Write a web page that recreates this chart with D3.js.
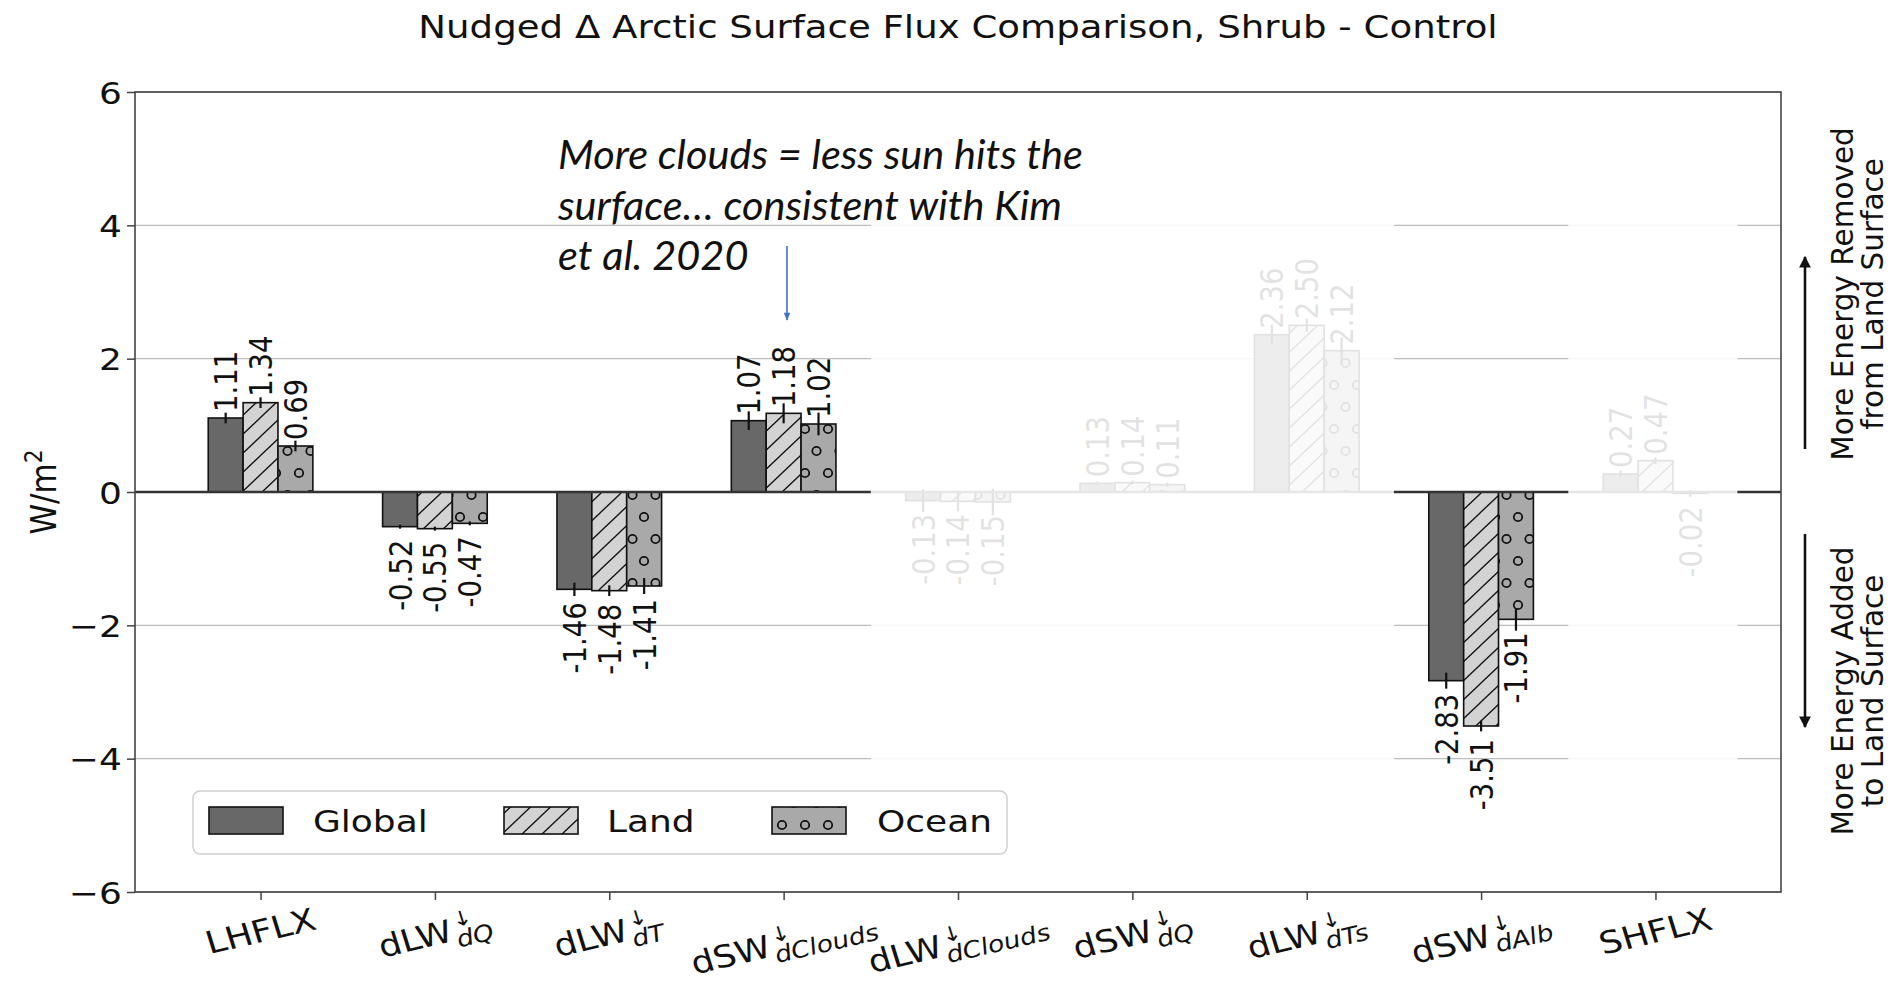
<!DOCTYPE html>
<html>
<head>
<meta charset="utf-8">
<script src="https://cdn.jsdelivr.net/npm/d3@7"></script>
<style>
  body { margin: 0; background: #fff; }
  svg { display: block; }
</style>
</head>
<body>
<svg id="chart" width="1891" height="1004"></svg>
<script>
// ---- data -------------------------------------------------------------
const categories = ["LHFLX", "dLW_dQ", "dLW_dT", "dSW_dClouds", "dLW_dClouds",
                    "dSW_dQ", "dLW_dTs", "dSW_dAlb", "SHFLX"];
const labelBase = ["LHFLX", "dLW", "dLW", "dSW", "dLW", "dSW", "dLW", "dSW", "SHFLX"];
const labelSub  = ["", "dQ", "dT", "dClouds", "dClouds", "dQ", "dTs", "dAlb", ""];

const seriesNames = ["Global", "Land", "Ocean"];
const globalValues = [1.11, -0.52, -1.46, 1.07, -0.13, 0.13, 2.36, -2.83, 0.27];
const landValues   = [1.34, -0.55, -1.48, 1.18, -0.14, 0.14, 2.50, -3.51, 0.47];
const oceanValues  = [0.69, -0.47, -1.41, 1.02, -0.15, 0.11, 2.12, -1.91, -0.02];

const globalErr = [0.08, 0.03, 0.10, 0.14, 0.17, 0.03, 0.15, 0.12, 0.05];
const landErr   = [0.08, 0.03, 0.08, 0.15, 0.15, 0.03, 0.10, 0.08, 0.05];
const oceanErr  = [0.08, 0.03, 0.12, 0.17, 0.20, 0.03, 0.20, 0.17, 0.05];

const yTicks = [-6, -4, -2, 0, 2, 4, 6];

const titleText = "Nudged \u0394 Arctic Surface Flux Comparison, Shrub - Control";
const yLabelText = "W/m";
const upperNote = ["More Energy Removed", "from Land Surface"];
const lowerNote = ["More Energy Added", "to Land Surface"];
const calloutLines = ["More clouds = less sun hits the",
                      "surface\u2026 consistent with Kim",
                      "et al. 2020"];

// ---- layout -----------------------------------------------------------
const plot = { left: 135, right: 1781, top: 92, bottom: 892 };
const SX = 1.16;            // horizontal stretch of the figure's lettering
const FONT = "DejaVu Sans";
const FS = 31;              // tick / legend size
const VFS = 27.5;           // bar value labels
const BW = 0.2;             // bar width in category units
const ROT = 15;             // x tick label rotation

const series = [
  { name: seriesNames[0], values: globalValues, err: globalErr, fill: "#686868", hatch: null },
  { name: seriesNames[1], values: landValues,   err: landErr,   fill: "#d3d3d3", hatch: "url(#hatchDiag)" },
  { name: seriesNames[2], values: oceanValues,  err: oceanErr,  fill: "#a9a9a9", hatch: "url(#hatchRing)" }
];

const svg = d3.select("#chart");
const xs = d3.scaleLinear().domain([-0.72, 8.72]).range([plot.left, plot.right]);
const ys = d3.scaleLinear().domain([-6, 6]).range([plot.bottom, plot.top]);

const stretch = (x, y, rot, sx = SX) =>
  `translate(${x},${y}) scale(${sx},1)` + (rot ? ` rotate(${rot})` : "");

// ---- hatch patterns ---------------------------------------------------
const defs = svg.append("defs");
{
  const w = 20, h = 19;
  const p = defs.append("pattern").attr("id", "hatchDiag")
    .attr("patternUnits", "userSpaceOnUse").attr("width", w).attr("height", h);
  p.append("path")
    .attr("d", `M0,${h} L${w},0 M${-w / 2},${h / 2} L${w / 2},${-h / 2} M${w / 2},${h * 1.5} L${w * 1.5},${h / 2}`)
    .attr("stroke", "#111").attr("stroke-width", 1.3).attr("fill", "none");
}
{
  const w = 23, h = 44, r = 4.2;
  const p = defs.append("pattern").attr("id", "hatchRing")
    .attr("patternUnits", "userSpaceOnUse").attr("width", w).attr("height", h);
  [[w / 2, h / 4], [0, h * 0.75], [w, h * 0.75]].forEach(([cx, cy]) =>
    p.append("circle").attr("cx", cx).attr("cy", cy).attr("r", r)
      .attr("fill", "none").attr("stroke", "#111").attr("stroke-width", 1.8));
}

// ---- grid -------------------------------------------------------------
svg.append("g").selectAll("line").data(yTicks).join("line")
  .attr("x1", plot.left).attr("x2", plot.right)
  .attr("y1", d => ys(d)).attr("y2", d => ys(d))
  .attr("stroke", "#bdbdbd").attr("stroke-width", 1.3);

// ---- bars -------------------------------------------------------------
const barLayer = svg.append("g");
series.forEach((s, si) => {
  const off = (si - 1) * BW;
  const rects = s.values.map((v, i) => ({
    x: xs(i + off - BW / 2), w: xs(i + off + BW / 2) - xs(i + off - BW / 2),
    y: ys(Math.max(0, v)), h: Math.abs(ys(v) - ys(0))
  }));
  barLayer.append("g").selectAll("rect").data(rects).join("rect")
    .attr("x", d => d.x).attr("y", d => d.y).attr("width", d => d.w).attr("height", d => d.h)
    .attr("fill", s.fill);
  if (s.hatch) {
    barLayer.append("g").selectAll("rect").data(rects).join("rect")
      .attr("x", d => d.x).attr("y", d => d.y).attr("width", d => d.w).attr("height", d => d.h)
      .attr("fill", s.hatch);
  }
  barLayer.append("g").selectAll("rect").data(rects).join("rect")
    .attr("x", d => d.x).attr("y", d => d.y).attr("width", d => d.w).attr("height", d => d.h)
    .attr("fill", "none").attr("stroke", "#111").attr("stroke-width", 1.6);
});

// error bars
series.forEach((s, si) => {
  const off = (si - 1) * BW;
  svg.append("g").selectAll("line").data(s.values).join("line")
    .attr("x1", (v, i) => xs(i + off)).attr("x2", (v, i) => xs(i + off))
    .attr("y1", (v, i) => ys(v - s.err[i])).attr("y2", (v, i) => ys(v + s.err[i]))
    .attr("stroke", "#111").attr("stroke-width", 2.2);
});

// zero line
svg.append("line")
  .attr("x1", plot.left).attr("x2", plot.right).attr("y1", ys(0)).attr("y2", ys(0))
  .attr("stroke", "#333").attr("stroke-width", 2.6);

// value labels
const valLayer = svg.append("g").attr("font-family", FONT).attr("font-size", VFS).attr("fill", "#111");
series.forEach((s, si) => {
  const off = (si - 1) * BW;
  s.values.forEach((v, i) => {
    const pos = v >= 0;
    valLayer.append("text")
      .attr("transform", stretch(xs(i + off), pos ? ys(v) - 6 : ys(v) + 13, -90))
      .attr("text-anchor", pos ? "start" : "end")
      .attr("dy", "0.36em")
      .text(v.toFixed(2));
  });
});

// ---- axes & spines ----------------------------------------------------
const yAxis = svg.append("g").attr("transform", `translate(${plot.left},0)`)
  .call(d3.axisLeft(ys).tickValues(yTicks).tickSize(8).tickPadding(0)
    .tickFormat(d => d < 0 ? "\u2212" + Math.abs(d) : String(d)));
yAxis.select(".domain").remove();
yAxis.selectAll(".tick line").attr("stroke", "#444").attr("stroke-width", 1.5);
yAxis.selectAll(".tick text")
  .attr("x", null).attr("dy", "0.36em")
  .attr("transform", `translate(-13,0) scale(${SX},1)`)
  .attr("font-family", FONT).attr("font-size", FS).attr("fill", "#111")
  .attr("text-anchor", "end");

const xAxis = svg.append("g").attr("transform", `translate(0,${plot.bottom})`)
  .call(d3.axisBottom(xs).tickValues(d3.range(categories.length)).tickSize(8).tickFormat(""));
xAxis.select(".domain").remove();
xAxis.selectAll(".tick line").attr("stroke", "#444").attr("stroke-width", 1.5);

svg.append("rect")
  .attr("x", plot.left).attr("y", plot.top)
  .attr("width", plot.right - plot.left).attr("height", plot.bottom - plot.top)
  .attr("fill", "none").attr("stroke", "#444").attr("stroke-width", 1.6);

// x tick labels: base name with stacked ↓ superscript and italic subscript
const xLab = svg.append("g").attr("font-family", FONT).attr("fill", "#111");
categories.forEach((c, i) => {
  const g = xLab.append("g");
  const inner = g.append("g");
  const base = inner.append("text").attr("font-size", FS).text(labelBase[i]);
  if (labelSub[i]) {
    const w = base.node().getComputedTextLength();
    inner.append("text").attr("x", w + 2).attr("y", 0.24 * FS)
      .attr("font-size", 0.74 * FS).attr("font-style", "italic").text(labelSub[i]);
    inner.append("text").attr("x", w + 3).attr("y", -0.42 * FS)
      .attr("font-size", 0.66 * FS).text("\u2193");
  }
  const bb = inner.node().getBBox();
  const cx = bb.x + bb.width / 2, cy = bb.y + bb.height / 2;
  const t = ROT * Math.PI / 180;
  const hRot = bb.width * Math.sin(t) + bb.height * Math.cos(t);
  g.attr("transform",
    `translate(${xs(i)},${plot.bottom + 9 + hRot / 2}) scale(${SX},1) rotate(${-ROT}) translate(${-cx},${-cy})`);
});

// ---- dimmed category groups -------------------------------------------
[[3.5, 6.5], [7.5, 8.47]].forEach(([a, b]) => {
  svg.append("rect")
    .attr("x", xs(a)).attr("width", xs(b) - xs(a))
    .attr("y", 215).attr("height", 782 - 215)
    .attr("fill", "#fff").attr("fill-opacity", 0.88);
});

// ---- legend -----------------------------------------------------------
const legend = svg.append("g").attr("font-family", FONT).attr("font-size", FS).attr("fill", "#111");
legend.append("rect").attr("x", 193).attr("y", 791).attr("width", 814).attr("height", 63)
  .attr("rx", 7).attr("fill", "#fff").attr("fill-opacity", 0.85)
  .attr("stroke", "#d0d0d0").attr("stroke-width", 1.5);
const legX = [209, 504, 772];
const legTextX = [313, 607, 877];
series.forEach((s, si) => {
  legend.append("rect").attr("x", legX[si]).attr("y", 807).attr("width", 74).attr("height", 27)
    .attr("fill", s.fill);
  if (s.hatch) legend.append("rect").attr("x", legX[si]).attr("y", 807).attr("width", 74).attr("height", 27)
    .attr("fill", s.hatch);
  legend.append("rect").attr("x", legX[si]).attr("y", 807).attr("width", 74).attr("height", 27)
    .attr("fill", "none").attr("stroke", "#111").attr("stroke-width", 1.6);
  legend.append("text").attr("transform", stretch(legTextX[si], 821)).attr("dy", "0.36em").text(s.name);
});

// ---- title & axis label -----------------------------------------------
svg.append("text").attr("transform", stretch((plot.left + plot.right) / 2, 38))
  .attr("text-anchor", "middle").attr("font-family", FONT).attr("font-size", 32).attr("fill", "#111")
  .text(titleText);

const yl = svg.append("text").attr("transform", stretch(43, ys(0), -90))
  .attr("text-anchor", "middle").attr("dy", "0.36em")
  .attr("font-family", FONT).attr("font-size", FS).attr("fill", "#111");
yl.append("tspan").text(yLabelText);
yl.append("tspan").attr("font-size", 0.7 * FS).attr("dy", "-0.55em").text("2");

// ---- right-hand direction notes ---------------------------------------
defs.append("marker").attr("id", "headBlack").attr("viewBox", "0 0 10 10")
  .attr("refX", 9).attr("refY", 5).attr("markerWidth", 4.5).attr("markerHeight", 4.5)
  .attr("orient", "auto").append("path").attr("d", "M0,0 L10,5 L0,10 z").attr("fill", "#111");
svg.append("line").attr("x1", 1805).attr("x2", 1805).attr("y1", 449).attr("y2", 257)
  .attr("stroke", "#111").attr("stroke-width", 2.6).attr("marker-end", "url(#headBlack)");
svg.append("line").attr("x1", 1805).attr("x2", 1805).attr("y1", 534).attr("y2", 727)
  .attr("stroke", "#111").attr("stroke-width", 2.6).attr("marker-end", "url(#headBlack)");

const noteG = svg.append("g").attr("font-family", FONT).attr("font-size", 29.5).attr("fill", "#111");
[[upperNote, 294], [lowerNote, 691]].forEach(([lines, cy]) => {
  lines.forEach((ln, k) => {
    noteG.append("text").attr("transform", stretch(1853 + k * 30, cy, -90, 1.0))
      .attr("text-anchor", "middle").text(ln);
  });
});

// ---- callout ----------------------------------------------------------
const callout = svg.append("g").attr("font-family", "Lato, 'Open Sans', sans-serif")
  .attr("font-style", "italic").attr("fill", "#111");
const probe = callout.append("text").attr("font-size", 36).text(calloutLines[0]);
const calloutFS = 36 * 525 / probe.node().getComputedTextLength();
probe.remove();
calloutLines.forEach((ln, k) => {
  callout.append("text").attr("x", 558).attr("y", 169 + k * 50.5)
    .attr("font-size", calloutFS).text(ln);
});

defs.append("marker").attr("id", "headBlue").attr("viewBox", "0 0 10 10")
  .attr("refX", 9).attr("refY", 5).attr("markerWidth", 6).attr("markerHeight", 5)
  .attr("orient", "auto").append("path").attr("d", "M0,1 L10,5 L0,9 z").attr("fill", "#4472C4");
svg.append("line").attr("x1", 787).attr("x2", 787).attr("y1", 246).attr("y2", 320)
  .attr("stroke", "#4472C4").attr("stroke-width", 1.6).attr("marker-end", "url(#headBlue)");
</script>
</body>
</html>
